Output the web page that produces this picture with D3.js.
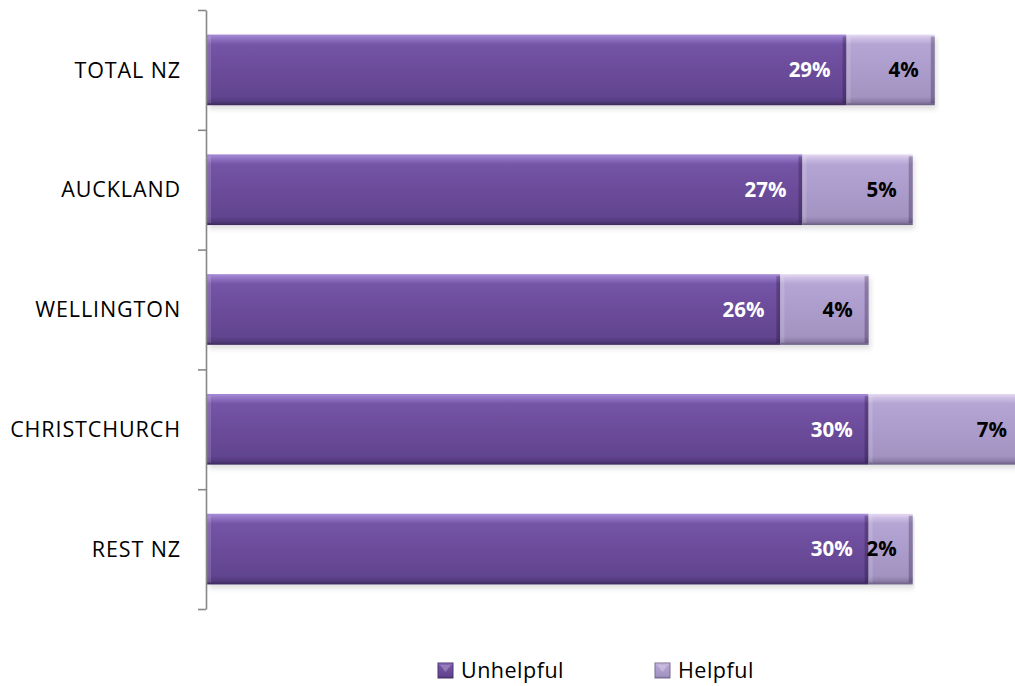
<!DOCTYPE html>
<html>
<head>
<meta charset="utf-8">
<script src="https://cdn.jsdelivr.net/npm/d3@7"></script>
<style>
  html, body { margin: 0; padding: 0; background: #ffffff; }
  svg { display: block; }
  text { font-family: "Open Sans", "Noto Sans", sans-serif; }
</style>
</head>
<body>
<svg id="chart" width="1015" height="686"></svg>
<script>
// Share of respondents by region
const categories = ["TOTAL NZ", "AUCKLAND", "WELLINGTON", "CHRISTCHURCH", "REST NZ"];
const unhelpful = [29, 27, 26, 30, 30];
const helpful = [4, 5, 4, 7, 2];
const seriesNames = ["Unhelpful", "Helpful"];

const W = 1015, H = 686;
const svg = d3.select("#chart");

const rows = categories.map((c, i) => ({ category: c, Unhelpful: unhelpful[i], Helpful: helpful[i] }));
const stacked = d3.stack().keys(seriesNames)(rows);

const axisX = 206;
const x = d3.scaleLinear().domain([0, 37]).range([axisX + 1, 1023]);
const y = d3.scaleBand().domain(categories).range([10, 609]).paddingInner(0.41).paddingOuter(0.205);
const yEdges = d3.scaleLinear().domain([0, categories.length]).range([10, 609]);

// Bevelled fills for each series
const defs = svg.append("defs");
const fills = {
  Unhelpful: [["0%", "#a98cd8"], ["6%", "#9073c2"], ["14%", "#7454a6"], ["55%", "#6a4b99"], ["88%", "#614490"], ["95%", "#533a7c"], ["100%", "#3d2a5c"]],
  Helpful:   [["0%", "#e6dbf2"], ["6%", "#cbbde3"], ["14%", "#b5a5d4"], ["55%", "#ab9bca"], ["88%", "#a293c1"], ["95%", "#8c7ea8"], ["100%", "#6a5e82"]]
};
Object.entries(fills).forEach(([key, stops]) => {
  const g = defs.append("linearGradient").attr("id", "grad-" + key)
    .attr("x1", 0).attr("y1", 0).attr("x2", 0).attr("y2", 1);
  stops.forEach(([o, c]) => g.append("stop").attr("offset", o).attr("stop-color", c));
});
const shadow = defs.append("filter").attr("id", "barShadow")
  .attr("x", "-5%").attr("y", "-20%").attr("width", "110%").attr("height", "150%");
shadow.append("feDropShadow").attr("dx", 2).attr("dy", 4).attr("stdDeviation", 2.5)
  .attr("flood-color", "#000").attr("flood-opacity", 0.12);

// Stacked bars
const layers = svg.append("g").selectAll("g")
  .data(stacked).join("g");

const segs = layers.selectAll("g")
  .data(d => d.map(p => ({ key: d.key, x0: p[0], x1: p[1], category: p.data.category, value: p.data[d.key] })))
  .join("g")
  .attr("filter", "url(#barShadow)");

segs.append("rect")
  .attr("x", d => x(d.x0))
  .attr("y", d => y(d.category))
  .attr("width", d => x(d.x1) - x(d.x0))
  .attr("height", y.bandwidth())
  .attr("fill", d => "url(#grad-" + d.key + ")");

// light left edge and dark right edge of each segment
segs.append("rect")
  .attr("x", d => x(d.x0))
  .attr("y", d => y(d.category) + 2)
  .attr("width", 4)
  .attr("height", y.bandwidth() - 4)
  .attr("fill", "#ffffff").attr("opacity", 0.14);
segs.append("rect")
  .attr("x", d => x(d.x1) - 4)
  .attr("y", d => y(d.category) + 2)
  .attr("width", 4)
  .attr("height", y.bandwidth() - 4)
  .attr("fill", "#1e1030").attr("opacity", 0.28);

// Value labels, right-aligned inside each segment
layers.selectAll("text")
  .data(d => d.map(p => ({ key: d.key, x1: p[1], category: p.data.category, value: p.data[d.key] })))
  .join("text")
  .attr("x", d => x(d.x1) - 16)
  .attr("y", d => y(d.category) + y.bandwidth() / 2)
  .attr("dy", "0.36em")
  .attr("text-anchor", "end")
  .attr("font-size", 20.5)
  .attr("font-weight", "bold")
  .attr("fill", d => d.key === "Unhelpful" ? "#ffffff" : "#000000")
  .text(d => d.value + "%");

// Category axis with ticks between bands
const axis = svg.append("g")
  .attr("transform", `translate(${axisX},0)`)
  .call(d3.axisLeft(yEdges).ticks(categories.length).tickSize(8).tickSizeOuter(0).tickFormat(""));
axis.selectAll("path, line").attr("stroke", "#888888").attr("stroke-width", 1.6);

svg.append("g").selectAll("text")
  .data(categories).join("text")
  .attr("x", 181)
  .attr("y", d => y(d) + y.bandwidth() / 2)
  .attr("dy", "0.36em")
  .attr("text-anchor", "end")
  .attr("font-size", 21.5)
  .attr("letter-spacing", "0.9px")
  .attr("fill", "#000")
  .text(d => d);

// Legend
const legendX = [438, 655];
const legend = svg.append("g").selectAll("g")
  .data(seriesNames).join("g")
  .attr("transform", (d, i) => `translate(${legendX[i]},663)`);
legend.append("rect")
  .attr("width", 15).attr("height", 15)
  .attr("fill", d => "url(#grad-" + d + ")")
  .attr("stroke", d => d === "Unhelpful" ? "#4a3470" : "#7a6c94").attr("stroke-width", 1);
legend.append("path")
  .attr("d", "M2,2 L13,2 L7.5,9 Z")
  .attr("fill", "#ffffff").attr("opacity", 0.25);
legend.append("text")
  .attr("x", 23).attr("y", 7.5).attr("dy", "0.36em")
  .attr("font-size", 21.5)
  .attr("letter-spacing", "0.5px")
  .attr("fill", "#000")
  .text(d => d);
</script>
</body>
</html>
